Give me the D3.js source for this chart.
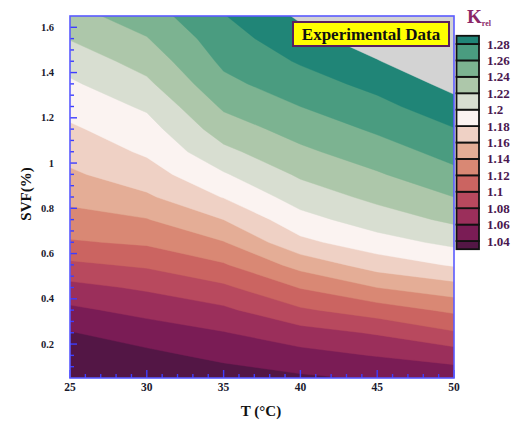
<!DOCTYPE html>
<html>
<head>
<meta charset="utf-8">
<script src="https://cdn.jsdelivr.net/npm/d3@7"></script>
<style>
  body { margin: 0; background: #ffffff; }
  svg { display: block; }
  svg text { font-family: "Liberation Serif", "DejaVu Serif", serif; font-weight: bold; }
</style>
</head>
<body>
<svg id="chart" width="517" height="423" font-family="Liberation Serif, DejaVu Serif, serif"></svg>
<script>
// Measurement grid: temperature columns and solid volume fraction rows
const temperatures = [25, 30, 35, 40, 45, 50];
const svfLevels = [0.05, 0.15, 0.25, 0.35, 0.45, 0.55, 0.65, 0.75, 0.85, 0.95,
                   1.05, 1.15, 1.25, 1.35, 1.45, 1.55, 1.65];

// Relative thermal conductivity K_rel at each SVF row, one list per temperature
const kRel25 = [1.021, 1.030, 1.039, 1.056, 1.074, 1.096, 1.118, 1.133, 1.145, 1.157, 1.167, 1.177, 1.187, 1.197, 1.208, 1.221, 1.233];
const kRel30 = [1.024, 1.035, 1.050, 1.066, 1.083, 1.103, 1.123, 1.139, 1.157, 1.171, 1.183, 1.192, 1.203, 1.216, 1.228, 1.239, 1.250];
const kRel35 = [1.030, 1.045, 1.059, 1.076, 1.096, 1.118, 1.139, 1.160, 1.181, 1.198, 1.215, 1.230, 1.243, 1.255, 1.264, 1.271, 1.279];
const kRel40 = [1.037, 1.053, 1.072, 1.097, 1.121, 1.147, 1.175, 1.193, 1.209, 1.223, 1.236, 1.248, 1.260, 1.271, 1.282, 1.293, 1.303];
const kRel45 = [1.042, 1.061, 1.082, 1.110, 1.140, 1.169, 1.192, 1.210, 1.225, 1.238, 1.251, 1.263, 1.274, 1.286, 1.299, 1.310, 1.320];
const kRel50 = [1.047, 1.069, 1.098, 1.124, 1.152, 1.182, 1.205, 1.224, 1.240, 1.255, 1.267, 1.279, 1.293, 1.306, 1.318, 1.329, 1.340];

// Contour levels and fill colours (first colour = below the first level)
const levels = [1.04, 1.06, 1.08, 1.10, 1.12, 1.14, 1.16, 1.18, 1.20, 1.22, 1.24, 1.26, 1.28, 1.30];
const bandColors = ["#531645", "#7a1c55", "#9b2f5b", "#b8495e", "#cb6461", "#d98874", "#e4ad96",
                    "#efd1c5", "#fbf3f1", "#d8ded1", "#adc7aa", "#7cb391", "#4a9c80", "#208577", "#d3d3d3"];
const barLabels = [1.04, 1.06, 1.08, 1.10, 1.12, 1.14, 1.16, 1.18, 1.20, 1.22, 1.24, 1.26, 1.28];
const barRange = [1.03, 1.29];

// Axis ticks
const xMajor = [25, 30, 35, 40, 45, 50];
const yMajor = [0.2, 0.4, 0.6, 0.8, 1.0, 1.2, 1.4, 1.6];

const svg = d3.select("#chart");
const plot = { left: 70, right: 454, top: 16, bottom: 378 };
const x = d3.scaleLinear().domain([25, 50]).range([plot.left, plot.right]);
const y = d3.scaleLinear().domain([0.05, 1.65]).range([plot.bottom, plot.top]);
const axisBlue = "#3d3dff";

svg.append("defs").append("clipPath").attr("id", "plot-clip")
  .append("rect")
  .attr("x", plot.left).attr("y", plot.top)
  .attr("width", plot.right - plot.left).attr("height", plot.bottom - plot.top);

// Row-major grid for d3.contours (x = temperature index, y = SVF index)
const columns = [kRel25, kRel30, kRel35, kRel40, kRel45, kRel50];
const nx = temperatures.length, ny = svfLevels.length;
const grid = new Array(nx * ny);
for (let j = 0; j < ny; j++) {
  for (let i = 0; i < nx; i++) grid[j * nx + i] = columns[i][j];
}

const tStep = temperatures[1] - temperatures[0];
const sStep = svfLevels[1] - svfLevels[0];
// d3.contours places sample (i, j) at grid coordinate (i + 0.5, j + 0.5)
const gridToPixel = d3.geoTransform({
  point(gx, gy) {
    this.stream.point(
      x(temperatures[0] + (gx - 0.5) * tStep),
      y(svfLevels[0] + (gy - 0.5) * sStep)
    );
  }
});
const path = d3.geoPath(gridToPixel);

const bands = d3.contours().size([nx, ny]).thresholds(levels)(grid);

const field = svg.append("g").attr("clip-path", "url(#plot-clip)");
field.append("rect")
  .attr("x", plot.left).attr("y", plot.top)
  .attr("width", plot.right - plot.left).attr("height", plot.bottom - plot.top)
  .attr("fill", bandColors[0]);
field.selectAll("path.band")
  .data(bands)
  .join("path")
  .attr("class", "band")
  .attr("d", path)
  .attr("fill", (d, i) => bandColors[i + 1])
  .attr("stroke", (d, i) => bandColors[i + 1])
  .attr("stroke-width", 0.4);

// Ticks (drawn inward on the left and bottom axes)
const xMinor = d3.range(26, 50, 1).filter(v => v % 5 !== 0);
const yMinor = d3.range(0.1, 1.65, 0.05).map(v => +v.toFixed(2))
  .filter(v => Math.abs(Math.round(v * 5) - v * 5) > 1e-6);

const ticks = svg.append("g").attr("stroke", axisBlue).attr("stroke-width", 1.4);
ticks.selectAll("line.xmaj").data(xMajor).join("line")
  .attr("x1", d => x(d)).attr("x2", d => x(d))
  .attr("y1", plot.bottom).attr("y2", plot.bottom - 8);
ticks.selectAll("line.xmin").data(xMinor).join("line")
  .attr("x1", d => x(d)).attr("x2", d => x(d))
  .attr("y1", plot.bottom).attr("y2", plot.bottom - 4);
ticks.selectAll("line.ymaj").data(yMajor).join("line")
  .attr("y1", d => y(d)).attr("y2", d => y(d))
  .attr("x1", plot.left).attr("x2", plot.left + 7);
ticks.selectAll("line.ymin").data(yMinor).join("line")
  .attr("y1", d => y(d)).attr("y2", d => y(d))
  .attr("x1", plot.left).attr("x2", plot.left + 4);

// Plot frame
svg.append("rect")
  .attr("x", plot.left).attr("y", plot.top)
  .attr("width", plot.right - plot.left).attr("height", plot.bottom - plot.top)
  .attr("fill", "none").attr("stroke", "#5a5aff").attr("stroke-width", 1.6);

// Tick labels
svg.append("g").selectAll("text").data(xMajor).join("text")
  .attr("x", d => x(d)).attr("y", plot.bottom + 13)
  .attr("text-anchor", "middle").attr("font-size", 11.5).attr("fill", "#1a1a2e")
  .text(d => d);
svg.append("g").selectAll("text").data(yMajor).join("text")
  .attr("x", 54).attr("y", d => y(d) + 3.5)
  .attr("text-anchor", "end").attr("font-size", 10.5).attr("fill", "#1a1a2e")
  .text(d => d3.format("~g")(d));

// Axis titles
svg.append("text")
  .attr("x", 261).attr("y", 416)
  .attr("text-anchor", "middle").attr("font-size", 15).attr("fill", "#111")
  .text("T (°C)");
svg.append("text")
  .attr("transform", "translate(31,194) rotate(-90)")
  .attr("text-anchor", "middle").attr("font-size", 15).attr("fill", "#111")
  .text("SVF(%)");

// Legend box
const legend = svg.append("g");
legend.append("rect")
  .attr("x", 293).attr("y", 22).attr("width", 156).attr("height", 24)
  .attr("fill", "#ffff00").attr("stroke", "#5a1e5e").attr("stroke-width", 2);
legend.append("text")
  .attr("x", 371).attr("y", 39.5)
  .attr("text-anchor", "middle").attr("font-size", 17).attr("fill", "#111")
  .text("Experimental Data");

// Colour bar
const yBar = d3.scaleLinear().domain([1.04, 1.28]).range([241, 44]);
const barCells = bandColors.slice(0, levels.length).map((c, i) => ({
  lo: i === 0 ? barRange[0] : Math.max(levels[i - 1], barRange[0]),
  hi: Math.min(levels[i], barRange[1]),
  color: c
}));
const bar = svg.append("g");
bar.selectAll("rect").data(barCells).join("rect")
  .attr("x", 456.5).attr("width", 22.5)
  .attr("y", d => yBar(d.hi)).attr("height", d => yBar(d.lo) - yBar(d.hi))
  .attr("fill", d => d.color)
  .attr("stroke", "#111").attr("stroke-width", 1.8);
bar.selectAll("text").data(barLabels).join("text")
  .attr("x", 487).attr("y", d => yBar(d) + 4.5)
  .attr("font-size", 13).attr("fill", "#4a1850")
  .text(d => d3.format("~g")(d));

const kTitle = svg.append("text")
  .attr("x", 467).attr("y", 23)
  .attr("font-size", 19).attr("fill", "#8b2868");
kTitle.append("tspan").text("K");
kTitle.append("tspan").attr("font-size", 8).attr("dy", 3).text("rel");
</script>
</body>
</html>
